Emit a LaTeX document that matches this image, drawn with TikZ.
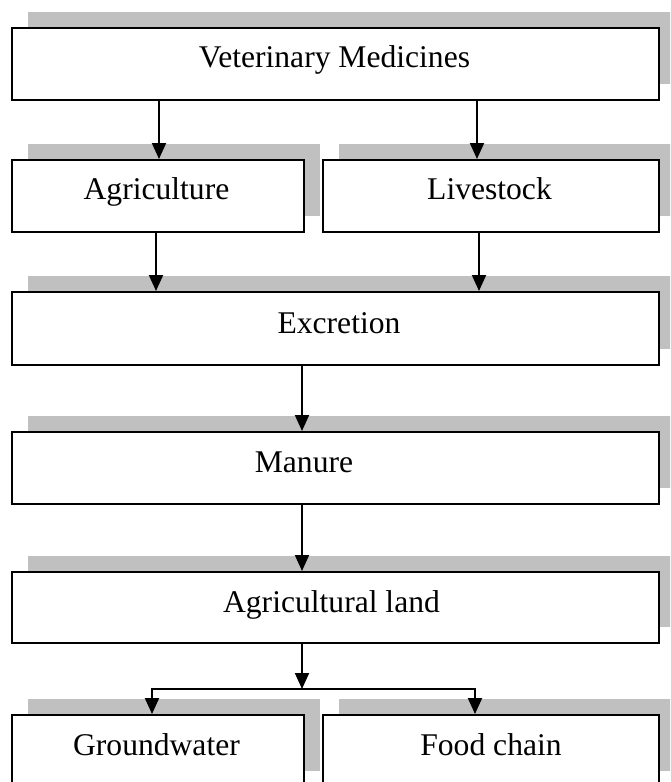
\documentclass[tikz,border=0pt]{standalone}
\usepackage{fontspec}
\setmainfont{Liberation Serif}
\usetikzlibrary{arrows.meta,shadows}
\definecolor{shadowgray}{RGB}{192,192,192}
\tikzset{
  box/.style={draw=black, line width=2.2pt, fill=white, inner sep=0pt, anchor=north west,
    drop shadow={shadow xshift=16pt, shadow yshift=16pt, opacity=1, fill=shadowgray}},
  lbl/.style={anchor=base, inner sep=0pt, font=\fontsize{31.6}{38}\selectfont},
  arr/.style={line width=2pt, -{Triangle[length=16pt,width=14pt]}},
}
\begin{document}
\begin{tikzpicture}[x=1pt,y=-1pt]
\path[use as bounding box, clip] (0,0) rectangle (670,782);
% boxes
\node[box, minimum width=647pt, minimum height=71.5pt] (vet) at (11,27) {};
\node[box, minimum width=292pt, minimum height=72pt] (ag) at (11,159) {};
\node[box, minimum width=336pt, minimum height=72pt] (live) at (322,159) {};
\node[box, minimum width=647pt, minimum height=73pt] (exc) at (11,291) {};
\node[box, minimum width=647pt, minimum height=72pt] (man) at (11,431) {};
\node[box, minimum width=647pt, minimum height=71pt] (land) at (11,571) {};
\node[box, minimum width=292pt, minimum height=72pt] (ground) at (11,714) {};
\node[box, minimum width=336pt, minimum height=72pt] (food) at (322,714) {};
% texts
\node[lbl] (vet-t) at (334.5,67) {Veterinary Medicines};
\node[lbl] (ag-t) at (156.5,199) {Agriculture};
\node[lbl] (live-t) at (489.5,199) {Livestock};
\node[lbl] (exc-t) at (339,333) {Excretion};
\node[lbl] (man-t) at (304,472) {Manure};
\node[lbl] (land-t) at (331.5,612) {Agricultural land};
\node[lbl] (ground-t) at (156.5,755) {Groundwater};
\node[lbl] (food-t) at (491,755) {Food chain};
% connector columns
\coordinate (xa) at (159,0);
\coordinate (xb) at (477,0);
\coordinate (xc) at (156,0);
\coordinate (xd) at (479,0);
\coordinate (xm) at (302,0);
\coordinate (xg) at (152,0);
\coordinate (xf) at (475,0);
\coordinate (split) at (302,689);
% connectors
\draw[arr] (vet.south -| xa) -- (ag.north -| xa);
\draw[arr] (vet.south -| xb) -- (live.north -| xb);
\draw[arr] (ag.south -| xc) -- (exc.north -| xc);
\draw[arr] (live.south -| xd) -- (exc.north -| xd);
\draw[arr] (exc.south -| xm) -- (man.north -| xm);
\draw[arr] (man.south -| xm) -- (land.north -| xm);
\draw[arr] (land.south -| xm) -- (split);
\draw[arr] (split) -| (ground.north -| xg);
\draw[arr] (split) -| (food.north -| xf);
\end{tikzpicture}
\end{document}
